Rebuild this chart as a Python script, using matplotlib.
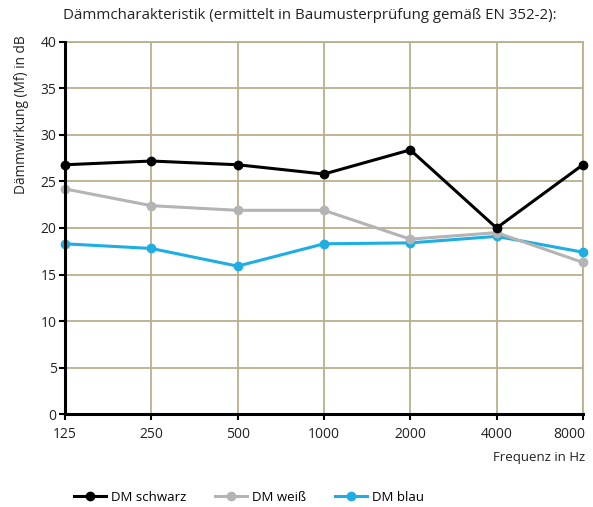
import matplotlib
matplotlib.use("Agg")
import matplotlib.pyplot as plt
import matplotlib.transforms as mtransforms
from matplotlib.ticker import FixedLocator, NullLocator

# values
freqs = [125, 250, 500, 1000, 2000, 4000, 8000]
freq_labels = ["125", "250", "500", "1000", "2000", "4000", "8000"]
dm_schwarz = [26.8, 27.2, 26.8, 25.8, 28.4, 20.0, 26.8]
dm_weiss = [24.2, 22.4, 21.9, 21.9, 18.8, 19.5, 16.3]
dm_blau = [18.3, 17.8, 15.9, 18.3, 18.4, 19.1, 17.4]
series_names = ["DM schwarz", "DM weiß", "DM blau"]
series_colors = ["#000000", "#b4b4b4", "#1eaee3"]
y_ticks = [0, 5, 10, 15, 20, 25, 30, 35, 40]

GRID = "#b9b08a"

plt.rcParams["font.family"] = ["Open Sans", "DejaVu Sans"]
plt.rcParams["font.size"] = 9.5

fig = plt.figure(figsize=(5.93, 5.07), dpi=100)
ax = fig.add_axes([0.1096, 0.1834, 0.8734, 0.7338])

ax.set_xscale("log", base=2)
ax.set_xlim(freqs[0], freqs[-1])
ax.set_ylim(0, 40)
ax.xaxis.set_major_locator(FixedLocator(freqs))
ax.xaxis.set_minor_locator(NullLocator())
ax.set_xticklabels(freq_labels)
ax.set_yticks(y_ticks)

ax.grid(True, color=GRID, linewidth=1.3)
ax.set_axisbelow(True)

# black on top, then grey, blue at the bottom
for name, vals, col, z in zip(series_names, [dm_schwarz, dm_weiss, dm_blau], series_colors, [5, 4, 3]):
    ax.plot(freqs, vals, color=col, linewidth=2.2, marker="o", markersize=6,
            label=name, clip_on=False, zorder=z)

for side in ("top", "right"):
    ax.spines[side].set_color(GRID)
    ax.spines[side].set_linewidth(1.3)
for side in ("left", "bottom"):
    ax.spines[side].set_color("black")
    ax.spines[side].set_linewidth(2.2)
    ax.spines[side].set_zorder(6)

ax.tick_params(axis="both", length=4, width=1.5, color="black", labelcolor="#222222",
               labelsize=10)
ax.tick_params(axis="x", pad=5)
ax.tick_params(axis="y", pad=2)

# last frequency label sits flush with the right edge
last = ax.get_xticklabels()[-1]
last.set_horizontalalignment("right")
last.set_transform(last.get_transform() + mtransforms.ScaledTranslation(2 / 100, 0, fig.dpi_scale_trans))

fig.text(0.106, 0.970, "Dämmcharakteristik (ermittelt in Baumusterprüfung gemäß EN 352-2):",
         ha="left", va="center", fontsize=10.85, color="#222222")
fig.text(0.037, 0.931, "Dämmwirkung (Mf) in dB", rotation=90, ha="center", va="top",
         fontsize=9.8, color="#222222")
fig.text(0.986, 0.097, "Frequenz in Hz", ha="right", va="center", fontsize=9.5, color="#222222")

handles, labels = ax.get_legend_handles_labels()
fig.legend(handles, labels, loc="center left", bbox_to_anchor=(0.105, 0.019), ncol=3,
           frameon=False, handlelength=2.4, columnspacing=2.2, handletextpad=0.4,
           fontsize=9.5)

fig.savefig("out.png", dpi=100)
